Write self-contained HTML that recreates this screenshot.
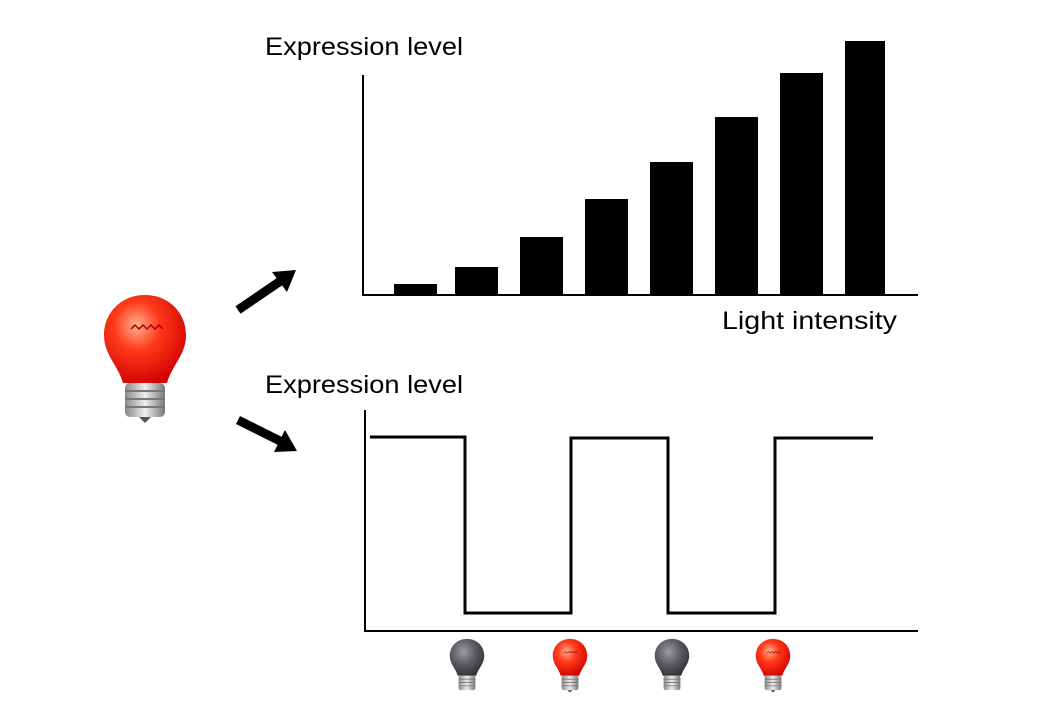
<!DOCTYPE html>
<html><head><meta charset="utf-8"><style>
html,body{margin:0;padding:0;background:#fff;width:1040px;height:720px;overflow:hidden}
text{font-family:"Liberation Sans",sans-serif;font-size:25px;fill:#000}
</style></head><body>
<svg width="1040" height="720" viewBox="0 0 1040 720" xmlns="http://www.w3.org/2000/svg">
<defs>
<radialGradient id="rg" cx="0.4" cy="0.35" r="0.7">
<stop offset="0" stop-color="#ffb090"/><stop offset="0.4" stop-color="#ff3a1a"/><stop offset="1" stop-color="#d00000"/>
</radialGradient>
<radialGradient id="gg" cx="0.4" cy="0.35" r="0.7">
<stop offset="0" stop-color="#9a9ca2"/><stop offset="0.5" stop-color="#5a5c62"/><stop offset="1" stop-color="#2e3034"/>
</radialGradient>
<linearGradient id="sg" x1="0" x2="1">
<stop offset="0" stop-color="#888"/><stop offset="0.5" stop-color="#eee"/><stop offset="1" stop-color="#777"/>
</linearGradient>
<g id="bulbR">
<path d="M0,-48 C24,-48 41,-30 41,-8 C41,12 27,22 22,40 L-22,40 C-27,22 -41,12 -41,-8 C-41,-30 -24,-48 0,-48Z" fill="url(#rg)"/>
<path d="M-14,-14 l4,-4 4,4 4,-4 4,4 4,-4 4,4 4,-4 4,4" stroke="#a00" stroke-width="1.5" fill="none"/>
<rect x="-20" y="40" width="40" height="34" rx="5" fill="url(#sg)"/>
<path d="M-20,48h40M-20,56h40M-20,64h40" stroke="#777" stroke-width="2"/>
<path d="M-6,74 L0,80 L6,74Z" fill="#555"/>
</g>
<g id="bulbG">
<path d="M0,-48 C24,-48 41,-30 41,-8 C41,12 27,22 22,40 L-22,40 C-27,22 -41,12 -41,-8 C-41,-30 -24,-48 0,-48Z" fill="url(#gg)"/>
<rect x="-20" y="40" width="40" height="34" rx="5" fill="url(#sg)"/>
<path d="M-20,48h40M-20,56h40M-20,64h40" stroke="#777" stroke-width="2"/>
</g>
</defs>
<use href="#bulbR" transform="translate(145,343)"/>
<use href="#bulbG" transform="translate(467,659) scale(0.42)"/>
<use href="#bulbR" transform="translate(570,659) scale(0.42)"/>
<use href="#bulbG" transform="translate(672,659) scale(0.42)"/>
<use href="#bulbR" transform="translate(773,659) scale(0.42)"/>
<line x1="238" y1="310" x2="282" y2="280" stroke="#000" stroke-width="9"/>
<path d="M296,270 L272,272 L287,292Z" fill="#000"/>
<line x1="238" y1="420" x2="282" y2="442" stroke="#000" stroke-width="9"/>
<path d="M297,451 L285,430 L274,452Z" fill="#000"/>
<text x="265" y="55" textLength="198" lengthAdjust="spacingAndGlyphs">Expression level</text>
<line x1="363" y1="75" x2="363" y2="296" stroke="#000" stroke-width="2"/>
<line x1="362" y1="295" x2="918" y2="295" stroke="#000" stroke-width="2"/>
<rect x="394" y="284" width="43" height="11"/>
<rect x="455" y="267" width="43" height="28"/>
<rect x="520" y="237" width="43" height="58"/>
<rect x="585" y="199" width="43" height="96"/>
<rect x="650" y="162" width="43" height="133"/>
<rect x="715" y="117" width="43" height="178"/>
<rect x="780" y="73" width="43" height="222"/>
<rect x="845" y="41" width="40" height="254"/>
<text x="722" y="329" textLength="175" lengthAdjust="spacingAndGlyphs">Light intensity</text>
<text x="265" y="393" textLength="198" lengthAdjust="spacingAndGlyphs">Expression level</text>
<line x1="365" y1="410" x2="365" y2="632" stroke="#000" stroke-width="2"/>
<line x1="364" y1="631" x2="918" y2="631" stroke="#000" stroke-width="2"/>
<polyline points="370,437 465,437 465,613 571,613 571,438 668,438 668,613 775,613 775,438 873,438" fill="none" stroke="#000" stroke-width="3"/>
</svg>
</body></html>
